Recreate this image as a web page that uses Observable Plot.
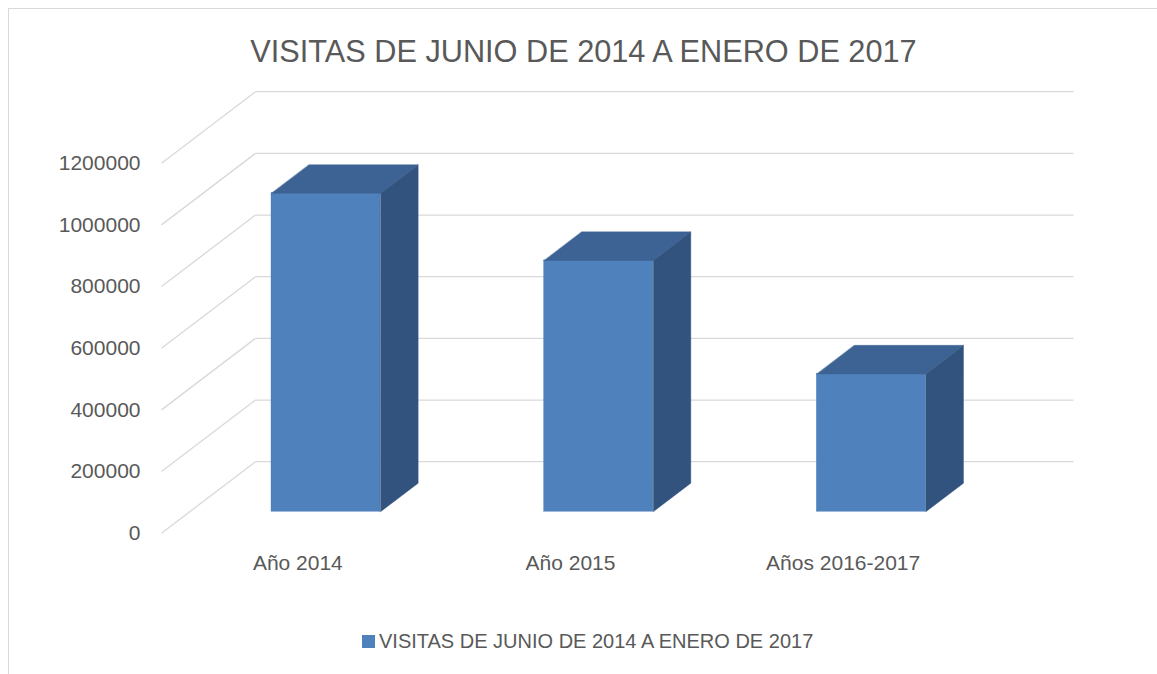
<!DOCTYPE html>
<html>
<head>
<meta charset="utf-8">
<script src="https://cdn.jsdelivr.net/npm/d3@7"></script>
<script src="https://cdn.jsdelivr.net/npm/@observablehq/plot@0.6"></script>
<style>
  html, body { margin: 0; padding: 0; overflow: hidden; background: #fff; }
  #page { position: relative; width: 1157px; height: 674px; overflow: hidden; font-family: "Liberation Sans", Arial, sans-serif; color: #595959; }
  #frame { position: absolute; left: 8px; top: 8px; width: 1200px; height: 720px; border: 1px solid #d9d9d9; box-sizing: border-box; }
  #title { position: absolute; left: 0; top: 37px; width: 1167px; text-align: center; font-size: 30.7px; line-height: 30.7px; white-space: nowrap; }
  #plot { position: absolute; left: 0; top: 80px; }
  #legend-swatch { position: absolute; left: 362px; top: 635px; width: 13px; height: 13px; }
  #legend-text { position: absolute; left: 379px; top: 631px; font-size: 20px; line-height: 20px; white-space: nowrap; }
</style>
</head>
<body>
<div id="page">
  <div id="frame"></div>
  <div id="title"></div>
  <div id="plot"></div>
  <div id="legend-swatch"></div>
  <div id="legend-text"></div>
</div>
<script>
// ---- data ----
const chartTitle = "VISITAS DE JUNIO DE 2014 A ENERO DE 2017";
const seriesName = "VISITAS DE JUNIO DE 2014 A ENERO DE 2017";
const categories = ["Año 2014", "Año 2015", "Años 2016-2017"];
const visitas = [1033000, 815000, 447000];
const yTicks = [0, 200000, 400000, 600000, 800000, 1000000, 1200000];

// ---- style / projection constants ----
const frontColor = "#4f81bd", topColor = "#3c6393", sideColor = "#31537d";
const gridColor = "#d9d9d9";
const Dx = 0.3447;   // wall depth along x, in category units
const Dv = 231900;   // wall depth along y, in value units (oblique projection)
const f0 = 0.3, f1 = 0.7;   // bar depth span (fraction of wall depth)
const g0 = 0.3, g1 = 0.7;   // bar width span inside a category

document.getElementById("title").textContent = chartTitle;
document.getElementById("legend-text").textContent = seriesName;
document.getElementById("legend-swatch").style.background = frontColor;

const bars = categories.map((c, i) => {
  const x1 = i + g0 + f0 * Dx, x2 = i + g1 + f0 * Dx;
  return {c, i, v: visitas[i], x1, x2};
});
const ddx = (f1 - f0) * Dx, ddv = (f1 - f0) * Dv;

const topPts = bars.flatMap(b => [
  {id: b.i, x: b.x1, y: b.v + f0 * Dv},
  {id: b.i, x: b.x2, y: b.v + f0 * Dv},
  {id: b.i, x: b.x2 + ddx, y: b.v + f0 * Dv + ddv},
  {id: b.i, x: b.x1 + ddx, y: b.v + f0 * Dv + ddv}
]);
const sidePts = bars.flatMap(b => [
  {id: b.i, x: b.x2, y: f0 * Dv},
  {id: b.i, x: b.x2 + ddx, y: f0 * Dv + ddv},
  {id: b.i, x: b.x2 + ddx, y: b.v + f0 * Dv + ddv},
  {id: b.i, x: b.x2, y: b.v + f0 * Dv}
]);

const chart = Plot.plot({
  width: 1157,
  height: 520,
  x: {domain: [0, categories.length], range: [161, 979], axis: null},
  y: {domain: [0, 1200000], range: [452.7, 82.7], axis: null},
  style: {fontFamily: "'Liberation Sans', Arial, sans-serif", fontSize: "21px", color: "#595959", background: "transparent", overflow: "visible"},
  marks: [
    // back wall gridlines
    Plot.link(yTicks, {x1: 0 + Dx, x2: categories.length + Dx, y1: d => d + Dv, y2: d => d + Dv, stroke: gridColor, strokeWidth: 1.3}),
    // side wall diagonals
    Plot.link(yTicks, {x1: 0, x2: Dx, y1: d => d, y2: d => d + Dv, stroke: gridColor, strokeWidth: 1.3}),
    // bars
    Plot.rect(bars, {x1: "x1", x2: "x2", y1: () => f0 * Dv, y2: d => d.v + f0 * Dv, fill: frontColor, stroke: frontColor, strokeWidth: 0.4}),
    Plot.line(topPts, {x: "x", y: "y", z: "id", fill: topColor, stroke: topColor, strokeWidth: 0.4, curve: "linear-closed"}),
    Plot.line(sidePts, {x: "x", y: "y", z: "id", fill: sideColor, stroke: sideColor, strokeWidth: 0.4, curve: "linear-closed"}),
    // y tick labels
    Plot.text(yTicks, {x: 0, y: d => d, text: d => String(d), textAnchor: "end", dx: -21, fill: "#595959"}),
    // category labels
    Plot.text(bars, {x: d => d.i + 0.5, y: 0, text: "c", dy: 30, fill: "#595959"})
  ]
});
document.getElementById("plot").appendChild(chart);
</script>
</body>
</html>
